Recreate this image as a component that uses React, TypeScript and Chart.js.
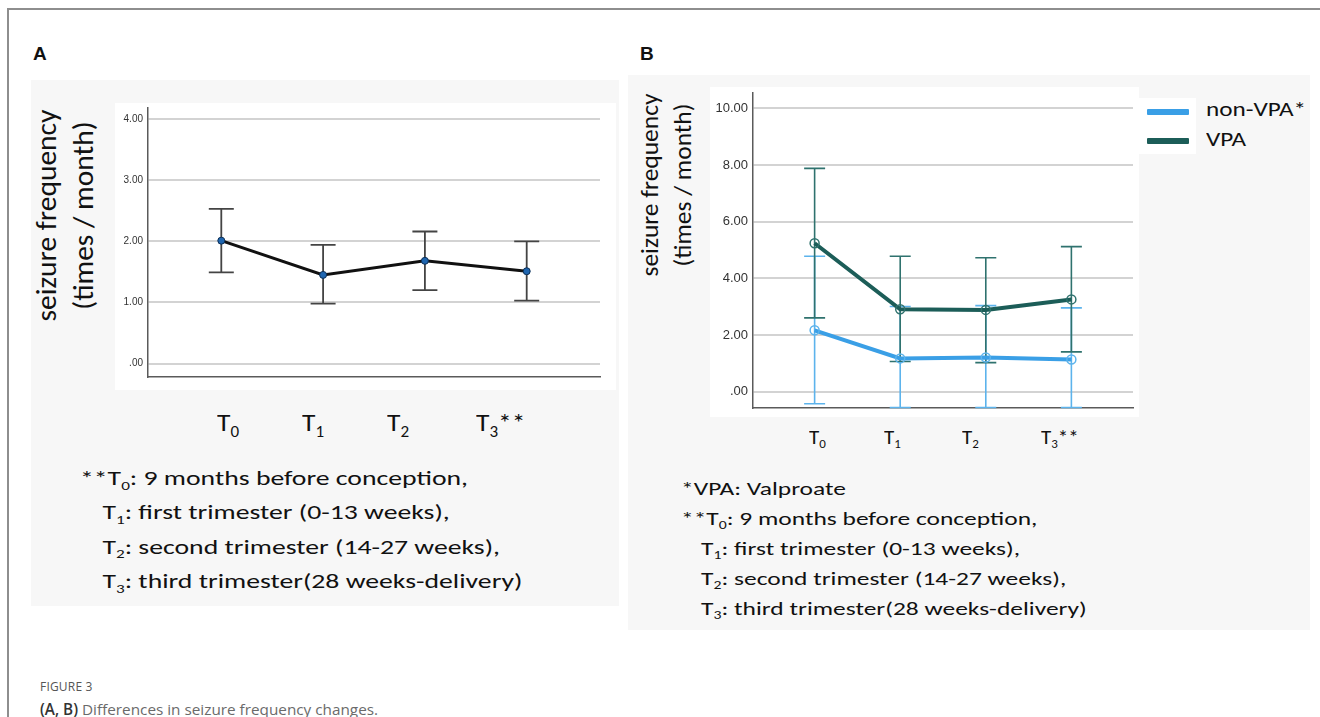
import React, { useEffect, useRef } from "react";
import { Chart, registerables } from "chart.js";

Chart.register(...registerables);

// ---------- data ----------
const categories = ["T0", "T1", "T2", "T3**"];
const categorySubs = ["0", "1", "2", "3"];
const xIndex = [0, 1, 2, 3];

// Panel A (all patients)
const meanA = [2.01, 1.45, 1.68, 1.51];
const upperA = [2.53, 1.94, 2.16, 2.0];
const lowerA = [1.49, 0.98, 1.2, 1.03];
const yTicksA = [0, 1, 2, 3, 4];

// Panel B (by group)
const seriesB = ["non-VPA*", "VPA"];
const meanNonVPA = [2.17, 1.18, 1.21, 1.14];
const upperNonVPA = [4.78, 3.01, 3.04, 2.96];
const lowerNonVPA = [-0.42, -0.55, -0.55, -0.55];
const meanVPA = [5.24, 2.91, 2.89, 3.26];
const upperVPA = [7.88, 4.78, 4.73, 5.12];
const lowerVPA = [2.61, 1.07, 1.03, 1.41];
const yTicksB = [0, 2, 4, 6, 8, 10];

const notesA = [
  ["**T", "0", ": 9 months before conception,"],
  ["T", "1", ": first trimester (0-13 weeks),"],
  ["T", "2", ": second trimester (14-27 weeks),"],
  ["T", "3", ": third trimester(28 weeks-delivery)"],
];
const notesB = [
  ["*VPA: Valproate", "", ""],
  ["**T", "0", ": 9 months before conception,"],
  ["T", "1", ": first trimester (0-13 weeks),"],
  ["T", "2", ": second trimester (14-27 weeks),"],
  ["T", "3", ": third trimester(28 weeks-delivery)"],
];

const colorNonVPA = "#3a9fe6";
const colorNonVPAErr = "#5cb3ec";
const colorVPA = "#1c5d58";
const colorVPAErr = "#2f726e";

const BODY_FONT = "Carlito, Lato, 'Open Sans', sans-serif";

// ---------- error bar plugin ----------
const errorBarPlugin = {
  id: "errorBars",
  beforeDatasetsDraw(chart: any) {
    const { ctx } = chart;
    const xs = chart.scales.x;
    const ys = chart.scales.y;
    chart.data.datasets.forEach((ds: any) => {
      if (!ds.errUpper) return;
      ctx.save();
      ctx.strokeStyle = ds.errColor;
      ctx.lineWidth = ds.errWidth;
      const w = ds.capHalf;
      ds.data.forEach((pt: any, i: number) => {
        const x = xs.getPixelForValue(pt.x);
        const yU = ys.getPixelForValue(ds.errUpper[i]);
        const yL = ys.getPixelForValue(ds.errLower[i]);
        ctx.beginPath();
        ctx.moveTo(x, yU);
        ctx.lineTo(x, yL);
        ctx.moveTo(x - w, yU);
        ctx.lineTo(x + w, yU);
        ctx.moveTo(x - w, yL);
        ctx.lineTo(x + w, yL);
        ctx.stroke();
      });
      ctx.restore();
    });
  },
};

const fmtTick = (v: number) => {
  const s = Number(v).toFixed(2);
  return s.startsWith("0.") ? s.slice(1) : s;
};

function makeOptions(cfg: {
  yMin: number;
  yMax: number;
  ticks: number[];
  yWidth: number;
  pad: { left: number; right: number; top: number; bottom: number };
  fontSize: number;
}) {
  return {
    animation: false,
    responsive: false,
    maintainAspectRatio: false,
    events: [],
    layout: { padding: cfg.pad },
    plugins: { legend: { display: false }, tooltip: { enabled: false }, title: { display: false } },
    scales: {
      x: {
        type: "linear",
        min: -0.72,
        max: 3.72,
        ticks: { display: false },
        grid: { display: false },
        border: { display: true, color: "#5a5a5a", width: 1.5 },
        afterFit: (s: any) => {
          s.height = 0;
          s.paddingLeft = 0;
          s.paddingRight = 0;
          s.paddingTop = 0;
          s.paddingBottom = 0;
        },
      },
      y: {
        type: "linear",
        min: cfg.yMin,
        max: cfg.yMax,
        afterBuildTicks: (s: any) => {
          s.ticks = cfg.ticks.map((v) => ({ value: v }));
        },
        ticks: {
          callback: (v: any) => fmtTick(v),
          font: { family: "'Liberation Sans', Arial, sans-serif", size: cfg.fontSize },
          color: "#333",
          padding: 5,
        },
        grid: { color: "#d3d3d3", lineWidth: 2, drawTicks: false },
        border: { display: true, color: "#5a5a5a", width: 1.5 },
        afterFit: (s: any) => {
          s.width = cfg.yWidth;
          s.paddingTop = 0;
          s.paddingBottom = 0;
          s.paddingLeft = 0;
          s.paddingRight = 0;
        },
      },
    },
  } as any;
}

function ChartA() {
  const ref = useRef<HTMLCanvasElement>(null);
  useEffect(() => {
    const chart = new Chart(ref.current as HTMLCanvasElement, {
      type: "line",
      data: {
        datasets: [
          {
            label: "all",
            data: xIndex.map((x, i) => ({ x, y: meanA[i] })),
            borderColor: "#111",
            borderWidth: 3,
            pointRadius: 3.5,
            pointBackgroundColor: "#1f66b0",
            pointBorderColor: "#0d2f55",
            pointBorderWidth: 1,
            tension: 0,
            errUpper: upperA,
            errLower: lowerA,
            errColor: "#444",
            errWidth: 1.8,
            capHalf: 12.5,
          } as any,
        ],
      },
      options: makeOptions({
        yMin: -0.22,
        yMax: 4.18,
        ticks: yTicksA,
        yWidth: 33,
        pad: { left: 0, right: 16, top: 2, bottom: 13 },
        fontSize: 10,
      }),
      plugins: [errorBarPlugin],
    });
    return () => chart.destroy();
  }, []);
  return (
    <canvas
      ref={ref}
      width={501}
      height={287}
      style={{ position: "absolute", left: 115, top: 103, width: 501, height: 287 }}
    />
  );
}

function ChartB() {
  const ref = useRef<HTMLCanvasElement>(null);
  useEffect(() => {
    const chart = new Chart(ref.current as HTMLCanvasElement, {
      type: "line",
      data: {
        datasets: [
          {
            label: seriesB[0],
            data: xIndex.map((x, i) => ({ x, y: meanNonVPA[i] })),
            borderColor: colorNonVPA,
            borderWidth: 4,
            pointRadius: 4.5,
            pointBackgroundColor: "rgba(0,0,0,0)",
            pointBorderColor: colorNonVPAErr,
            pointBorderWidth: 1.5,
            tension: 0,
            errUpper: upperNonVPA,
            errLower: lowerNonVPA,
            errColor: colorNonVPAErr,
            errWidth: 1.6,
            capHalf: 10.5,
          } as any,
          {
            label: seriesB[1],
            data: xIndex.map((x, i) => ({ x, y: meanVPA[i] })),
            borderColor: colorVPA,
            borderWidth: 4,
            pointRadius: 4.5,
            pointBackgroundColor: "rgba(0,0,0,0)",
            pointBorderColor: colorVPAErr,
            pointBorderWidth: 1.5,
            tension: 0,
            errUpper: upperVPA,
            errLower: lowerVPA,
            errColor: colorVPAErr,
            errWidth: 1.6,
            capHalf: 10.5,
          } as any,
        ],
      },
      options: makeOptions({
        yMin: -0.57,
        yMax: 10.54,
        ticks: yTicksB,
        yWidth: 43,
        pad: { left: 0, right: 3, top: 3, bottom: 9 },
        fontSize: 13,
      }),
      plugins: [errorBarPlugin],
    });
    return () => chart.destroy();
  }, []);
  return (
    <canvas
      ref={ref}
      width={429}
      height={330}
      style={{ position: "absolute", left: 710, top: 87, width: 429, height: 330 }}
    />
  );
}

function AxisTitle(props: { cx: number; cy: number; size: number; lh: number }) {
  const W = 380;
  const H = props.lh * 2;
  return (
    <div
      style={{
        position: "absolute",
        left: props.cx - W / 2,
        top: props.cy - H / 2,
        width: W,
        height: H,
        transform: "rotate(-90deg)",
        transformOrigin: "50% 50%",
        textAlign: "center",
        fontFamily: BODY_FONT,
        fontSize: props.size,
        lineHeight: props.lh + "px",
        color: "#111",
        whiteSpace: "nowrap",
      }}
    >
      <div>seizure frequency</div>
      <div>(times / month)</div>
    </div>
  );
}

const subStyle = (size: number) =>
  ({ fontSize: size * 0.62, position: "relative", top: size * 0.22, lineHeight: 0 } as React.CSSProperties);

function CatLabel(props: { left: number; top: number; size: number; i: number; sx: number }) {
  const name = categories[props.i];
  const suffix = name.slice(2);
  return (
    <div
      style={{
        position: "absolute",
        left: props.left,
        top: props.top,
        fontFamily: BODY_FONT,
        fontSize: props.size,
        lineHeight: 1,
        color: "#111",
        whiteSpace: "nowrap",
        transform: `scaleX(${props.sx})`,
        transformOrigin: "0 0",
      }}
    >
      T<span style={subStyle(props.size)}>{categorySubs[props.i]}</span>
      {suffix}
    </div>
  );
}

function Notes(props: {
  left: number;
  top: number;
  size: number;
  lh: number;
  lines: string[][];
  indent: number;
  sx: number;
}) {
  return (
    <div
      style={{
        position: "absolute",
        left: props.left,
        top: props.top,
        fontFamily: BODY_FONT,
        fontSize: props.size,
        lineHeight: props.lh + "px",
        color: "#111",
        whiteSpace: "nowrap",
        transform: `scaleX(${props.sx})`,
        transformOrigin: "0 0",
      }}
    >
      {props.lines.map((ln, k) => (
        <div key={k} style={{ height: props.lh, paddingLeft: ln[0].startsWith("*") ? 0 : props.indent }}>
          {ln[0]}
          {ln[1] ? <span style={subStyle(props.size)}>{ln[1]}</span> : null}
          {ln[2]}
        </div>
      ))}
    </div>
  );
}

export default function App() {
  const abs = (s: any) => ({ position: "absolute", ...s } as React.CSSProperties);
  return (
    <div
      style={{
        position: "fixed",
        left: 0,
        top: 0,
        width: 1320,
        height: 717,
        background: "#fff",
        overflow: "hidden",
      }}
    >
      {/* frame */}
      <div style={abs({ left: 7, top: 8, width: 1330, height: 730, borderTop: "2px solid #8e8e8e", borderLeft: "2px solid #8e8e8e" })} />

      {/* panel letters */}
      <div style={abs({ left: 33, top: 43, fontFamily: "'Liberation Sans Narrow', 'Liberation Sans', Arial", fontWeight: 700, fontSize: 19, color: "#111" })}>A</div>
      <div style={abs({ left: 640, top: 43, fontFamily: "'Liberation Sans Narrow', 'Liberation Sans', Arial", fontWeight: 700, fontSize: 19, color: "#111" })}>B</div>

      {/* panel backgrounds */}
      <div style={abs({ left: 31, top: 80, width: 588, height: 526, background: "#f7f7f7" })} />
      <div style={abs({ left: 115, top: 103, width: 501, height: 287, background: "#fff" })} />
      <div style={abs({ left: 628, top: 75, width: 682, height: 555, background: "#f7f7f7" })} />
      <div style={abs({ left: 710, top: 87, width: 429, height: 330, background: "#fff" })} />
      <div style={abs({ left: 1139, top: 98, width: 57, height: 56, background: "#fff" })} />

      {/* charts */}
      <ChartA />
      <ChartB />

      {/* axis titles */}
      <AxisTitle cx={64} cy={215} size={29.5} lh={36.5} />
      <AxisTitle cx={666} cy={185} size={25.5} lh={33} />

      {/* category labels */}
      {[217, 302, 387, 476].map((l, i) => (
        <CatLabel key={"a" + i} left={l} top={410} size={25} i={i} sx={1.1} />
      ))}
      {[809, 884, 962, 1041].map((l, i) => (
        <CatLabel key={"b" + i} left={l} top={427} size={20} i={i} sx={1.05} />
      ))}

      {/* legend */}
      <div style={abs({ left: 1147, top: 109, width: 42, height: 6, background: colorNonVPA, borderRadius: 1 })} />
      <div style={abs({ left: 1147, top: 138, width: 42, height: 6, background: colorVPA, borderRadius: 1 })} />
      <div style={abs({ left: 1206, top: 96, fontFamily: BODY_FONT, fontSize: 21, lineHeight: "26px", color: "#111", transform: "scaleX(1.2)", transformOrigin: "0 0" })}>{seriesB[0]}</div>
      <div style={abs({ left: 1206, top: 126, fontFamily: BODY_FONT, fontSize: 21, lineHeight: "26px", color: "#111", transform: "scaleX(1.2)", transformOrigin: "0 0" })}>{seriesB[1]}</div>

      {/* notes */}
      <Notes left={80} top={461} size={21} lh={34.3} lines={notesA} indent={17} sx={1.32} />
      <Notes left={681} top={474} size={19} lh={30} lines={notesB} indent={15} sx={1.34} />

      {/* caption */}
      <div style={abs({ left: 40, top: 678, fontFamily: "'Open Sans', sans-serif", fontSize: 12, color: "#555", letterSpacing: 0.2 })}>FIGURE 3</div>
      <div style={abs({ left: 40, top: 699, fontFamily: "'Open Sans', sans-serif", fontSize: 15.3, color: "#6a6a6a" })}>
        <span style={{ fontWeight: 600, color: "#333" }}>(A, B)</span> Differences in seizure frequency changes.
      </div>
    </div>
  );
}
